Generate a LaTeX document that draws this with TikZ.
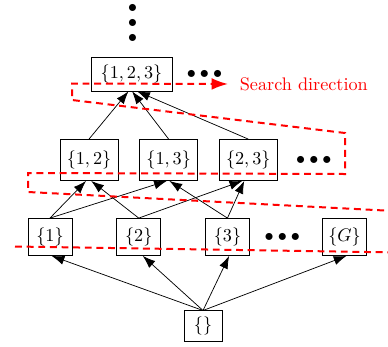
\documentclass[tikz,border=0pt]{standalone}
\usepackage{amssymb}
\usepackage{amsmath}
\usetikzlibrary{positioning, arrows.meta}
\usepackage{xcolor}

\newcommand{\hdotsrow}{${\bullet}\mkern4mu{\bullet}\mkern4mu{\bullet}$}

\begin{document}
\begin{tikzpicture}[x=0.55pt,y=0.55pt,
    subset/.style={draw, rectangle},
    triple/.style={subset, minimum width=44.6pt, minimum height=18.7pt},
    pair/.style={subset, minimum width=31.9pt, minimum height=22.6pt},
    single/.style={subset, minimum width=24.2pt, minimum height=20.4pt},
    zero/.style={subset, minimum width=20.9pt, minimum height=16.5pt},
    dots/.style={inner sep=0pt},
    arr/.style={-{Latex[length=7pt,width=5pt]}},
    search/.style={red, line width=1.1pt, dash pattern=on 3.8pt off 2.6pt}]
    \useasboundingbox (0,0) rectangle (388,-346);
    % lattice of subsets
    \node[zero] (e) at (203,-326) {$\{\}$};
    \node[single] (s1) at (50,-237) {$\{1\}$};
    \node[single] (s2) [right=24.2pt of s1] {$\{2\}$};
    \node[single] (s3) [right=24.2pt of s2] {$\{3\}$};
    \node[dots] (sdots) [right=8pt of s3] {\hdotsrow};
    \node[single] (sG) [right=39.6pt of s3] {$\{G\}$};
    \node[pair] (p12) at (89,-160) {$\{1,2\}$};
    \node[pair] (p13) [right=11.5pt of p12] {$\{1,3\}$};
    \node[pair] (p23) [right=11.5pt of p13] {$\{2,3\}$};
    \node[dots] (pdots) [right=10pt of p23] {\hdotsrow};
    \node[triple] (t123) at (131.5,-74) {$\{1,2,3\}$};
    \node[dots] (tdots) [right=7.7pt of t123] {\hdotsrow};
    \node[dots, rotate=90] (vdots) at (133,-23) {${\bullet}\mkern6mu{\bullet}\mkern6mu{\bullet}$};
    \draw[arr] (e.north) -- (s1.-85);
    \draw[arr] (e.north) -- (s2.-78);
    \draw[arr] (e.north) -- (s3.-85);
    \draw[arr] (e.north) -- (sG.-84);
    \draw[arr] (s1.north) -- (p12.-98);
    \draw[arr] (s1.north) -- (p13.-95);
    \draw[arr] (s2.north) -- (p12.-84);
    \draw[arr] (s2.north) -- (p23.-106);
    \draw[arr] (s3.north) -- (p13.-88);
    \draw[arr] (s3.north) -- (p23.-101);
    \draw[arr] (p12.north) -- (t123.-100);
    \draw[arr] (p13.north) -- (t123.-88);
    \draw[arr] (p23.north) -- (t123.-72);
    % search direction
    \coordinate (tip) at (228,-84);
    \draw[search, -{Latex[length=9pt,width=6.5pt]}] (15,-246.5) -- (400,-252.5) -- (400,-211.3)
        -- (28,-192) -- (28,-173) -- (345,-174) -- (345,-133) -- (72,-100) -- (72,-83.5) -- (tip);
    \node[text=red] (dir) [right=3pt of tip] {Search direction};
\end{tikzpicture}
\end{document}
